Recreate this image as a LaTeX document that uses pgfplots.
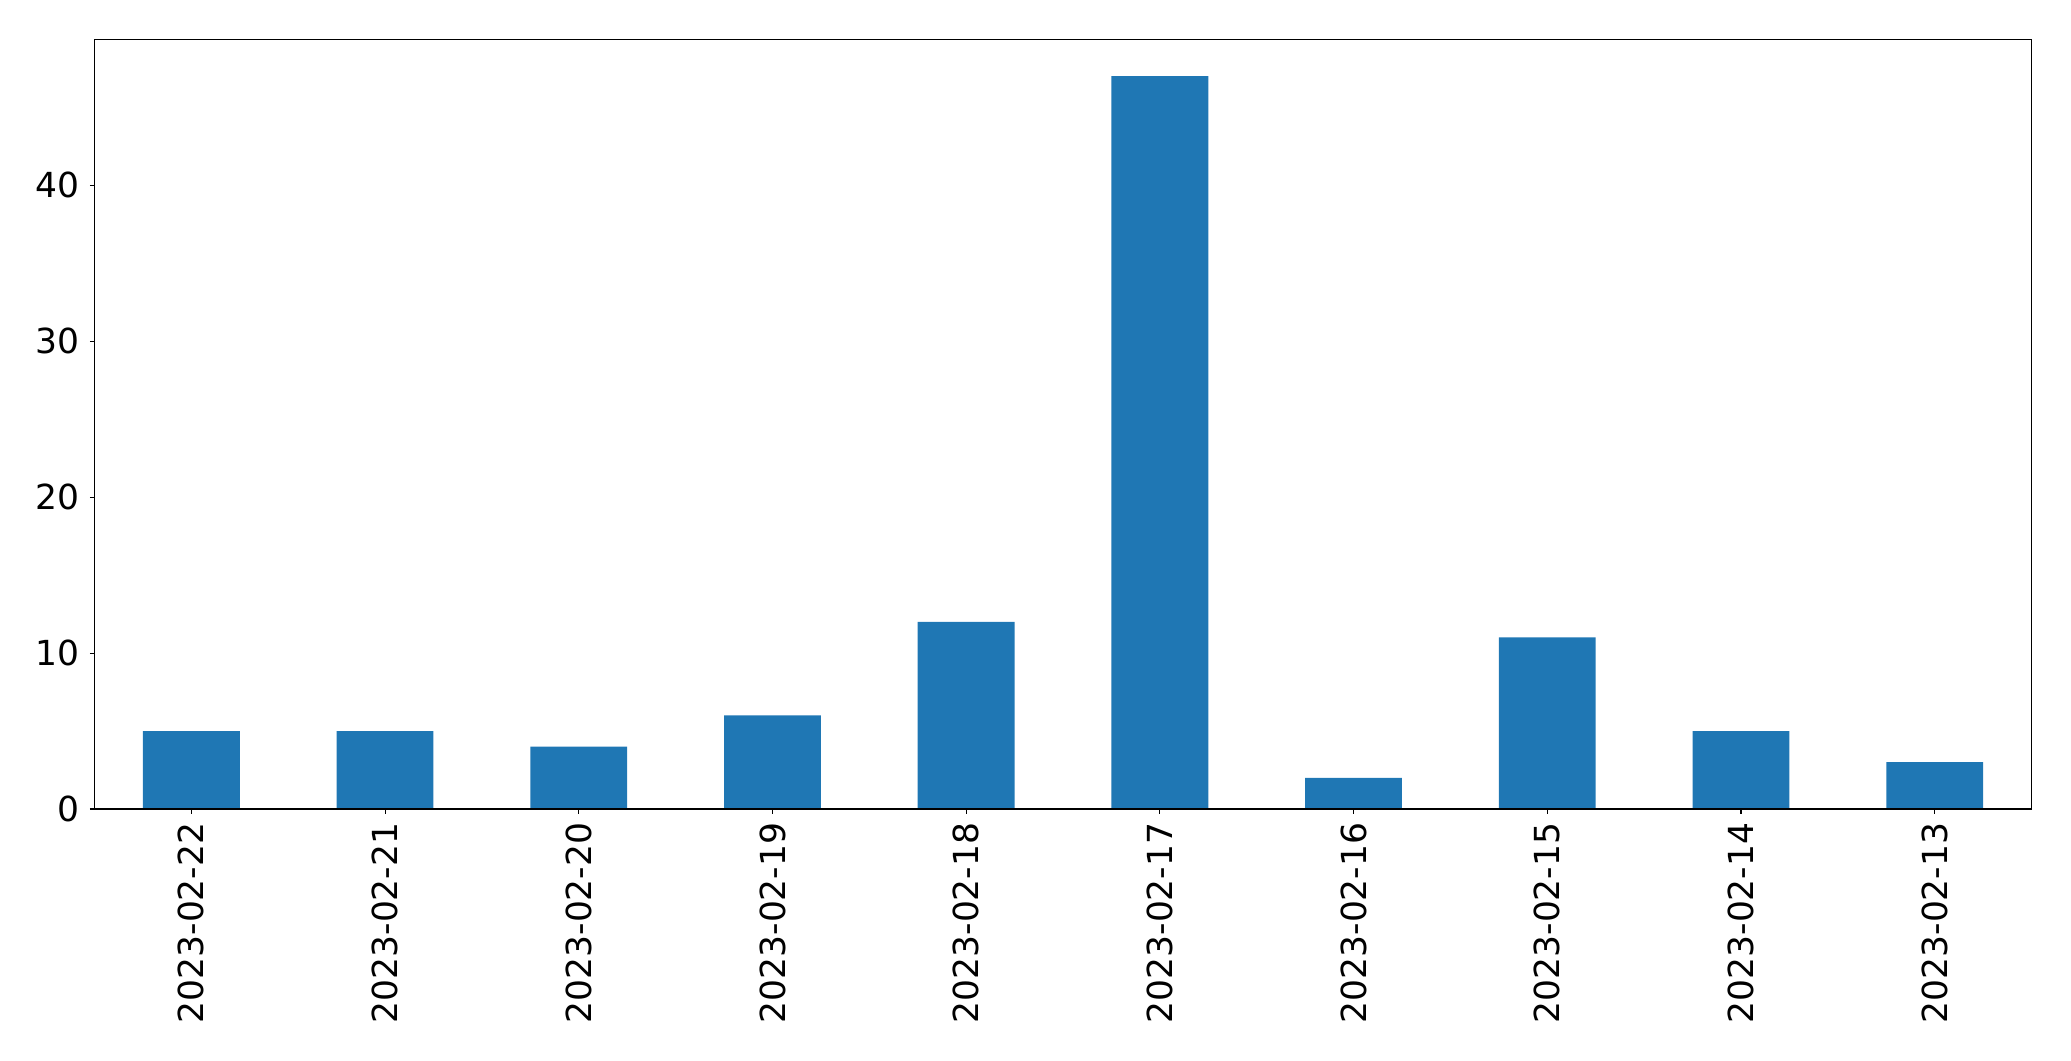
\documentclass[border=0pt]{standalone}
\usepackage{fontspec}
\setmainfont{DejaVu Sans}
\usepackage{pgfplots}
\pgfplotsset{compat=1.18}
\definecolor{tabblue}{HTML}{1F77B4}
\begin{document}
\fontsize{34.5bp}{40bp}\selectfont
\begin{tikzpicture}
\begin{axis}[
  at={(0,0)}, anchor=south west,
  scale only axis,
  width=1937bp, height=769.5bp,
  xmin=-0.5, xmax=9.5,
  ymin=0, ymax=49.35,
  xtick={0,...,9},
  xticklabels={2023-02-22,2023-02-21,2023-02-20,2023-02-19,2023-02-18,2023-02-17,2023-02-16,2023-02-15,2023-02-14,2023-02-13},
  ytick={0,10,20,30,40},
  tick align=outside,
  major tick length=4.5bp,
  tick style={black, line width=1.1bp},
  axis line style={black, line width=1.1bp},
  axis on top,
  xtick pos=bottom, ytick pos=left,
  /pgf/number format/assume math mode=true,
  tick label style={font=\fontsize{34.5bp}{40bp}\selectfont},
  xticklabel style={rotate=90, anchor=east, inner sep=0pt, xshift=-9bp},
  yticklabel style={anchor=east, inner sep=0pt, xshift=-10bp},
  ybar, bar width=0.5,
]
\addplot[fill=tabblue, draw=none] coordinates {
(0,5) (1,5) (2,4) (3,6) (4,12) (5,47) (6,2) (7,11) (8,5) (9,3)
};
\end{axis}
\pgfresetboundingbox
\path[use as bounding box] (-94.5bp,-252bp) rectangle (1976.5bp,809bp);
\end{tikzpicture}
\end{document}
